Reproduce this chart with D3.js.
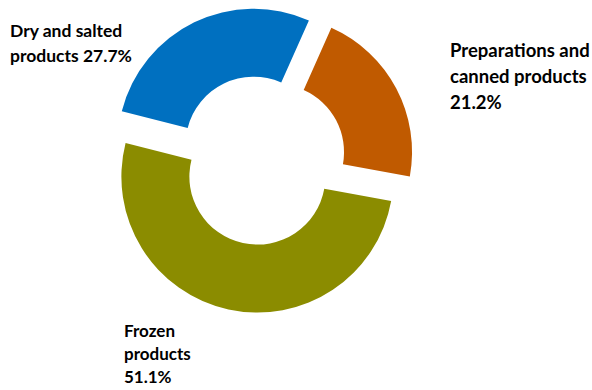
<!DOCTYPE html>
<html>
<head>
<meta charset="utf-8">
<script src="https://cdn.jsdelivr.net/npm/d3@7"></script>
<style>
  html, body { margin: 0; padding: 0; background: #ffffff; }
  svg text { font-family: "Lato", "Open Sans", sans-serif; font-weight: 700; fill: #000; }
</style>
</head>
<body>
<svg id="chart" width="592" height="390"></svg>
<script>
// Exports by product type (share of total, %)
const categories = ["Preparations and canned products", "Frozen products", "Dry and salted products"];
const shares = [21.2, 51.1, 27.7];
const colors = ["#c05a00", "#8b8c00", "#0070c0"];

// Label lines shown next to each slice
const labelLines = [
  ["Preparations and", "canned products", "21.2%"],
  ["Frozen", "products", "51.1%"],
  ["Dry and salted", "products 27.7%"]
];

const width = 592, height = 390;
const cx = 261, cy = 160;
const outerR = 136, innerR = 68;
const explode = 17;
const startDeg = 24;

const svg = d3.select("#chart");

const pie = d3.pie()
  .sort(null)
  .value(d => d)
  .startAngle(startDeg * Math.PI / 180)
  .endAngle(startDeg * Math.PI / 180 + 2 * Math.PI);

const arc = d3.arc().innerRadius(innerR).outerRadius(outerR);
const arcs = pie(shares);

const g = svg.append("g").attr("transform", `translate(${cx},${cy})`);

// Each slice is pushed outward along its mid-angle
g.selectAll("path.slice")
  .data(arcs)
  .join("path")
  .attr("class", "slice")
  .attr("d", arc)
  .attr("fill", (d, i) => colors[i])
  .attr("transform", d => {
    const mid = (d.startAngle + d.endAngle) / 2;
    return `translate(${explode * Math.sin(mid)},${-explode * Math.cos(mid)})`;
  });

// Text blocks: left edge, first baseline, line height and size
const labelPos = [
  { x: 450, y: 57, lh: 26, fs: 18.5 },
  { x: 124, y: 337, lh: 23, fs: 17 },
  { x: 10, y: 37, lh: 25, fs: 17.5 }
];

labelLines.forEach((lines, i) => {
  const p = labelPos[i];
  const t = svg.append("text")
    .attr("x", p.x)
    .attr("y", p.y)
    .attr("font-size", p.fs);
  lines.forEach((line, j) => {
    t.append("tspan")
      .attr("x", p.x)
      .attr("dy", j === 0 ? 0 : p.lh)
      .text(line);
  });
});
</script>
</body>
</html>
